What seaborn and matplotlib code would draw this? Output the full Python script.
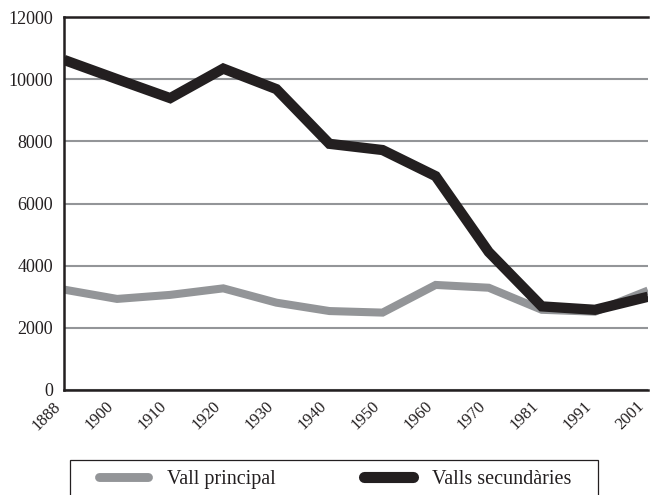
import matplotlib
matplotlib.use("Agg")
import matplotlib.pyplot as plt
import seaborn as sns
import pandas as pd
from matplotlib.lines import Line2D
from matplotlib.patches import Rectangle
from matplotlib.legend_handler import HandlerLine2D

years = ["1888", "1900", "1910", "1920", "1930", "1940", "1950", "1960", "1970", "1981", "1991", "2001"]
vall_principal = [3230, 2930, 3060, 3270, 2810, 2540, 2490, 3380, 3290, 2580, 2520, 3200]
valls_secundaries = [10620, 10000, 9390, 10340, 9680, 7920, 7720, 6880, 4440, 2690, 2580, 3000]
series = ["Vall principal", "Valls secundàries"]
colors = {"Vall principal": "#939598", "Valls secundàries": "#231f20"}
widths = {"Vall principal": 5.8, "Valls secundàries": 7.4}

sns.set_theme(style="white")
plt.rcParams["font.family"] = ["Liberation Serif", "DejaVu Serif"]

pos = list(range(len(years)))
df = pd.DataFrame({
    "pos": pos * 2,
    "value": vall_principal + valls_secundaries,
    "serie": [series[0]] * len(years) + [series[1]] * len(years),
})

fig = plt.figure(figsize=(6.5, 4.95), dpi=100)
ax = fig.add_axes([64 / 650, 1 - 390 / 495, (648 - 64) / 650, (390 - 17) / 495])

for s in series:
    sns.lineplot(data=df[df["serie"] == s], x="pos", y="value", color=colors[s],
                 linewidth=widths[s], ax=ax, legend=False,
                 solid_capstyle="butt", solid_joinstyle="miter")

ax.set_xlim(0, len(years) - 1)
ax.set_ylim(0, 12000)
ax.set_yticks(range(0, 12001, 2000))
ax.set_yticklabels([str(v) for v in range(0, 12001, 2000)], fontsize=13, color="#231f20")
ax.set_xticks(pos)
ax.set_xticklabels(years, fontsize=12, color="#231f20", rotation=45, ha="right",
                   va="top", rotation_mode="default")
ax.tick_params(axis="both", length=0)
ax.tick_params(axis="y", pad=8)
ax.tick_params(axis="x", pad=6)
ax.set_xlabel("")
ax.set_ylabel("")

ax.yaxis.grid(True, color="#939598", linewidth=1.5)
ax.xaxis.grid(False)
ax.set_axisbelow(True)
for side in ["left", "bottom", "top"]:
    ax.spines[side].set_visible(True)
    ax.spines[side].set_color("#231f20")
    ax.spines[side].set_linewidth(1.8)
ax.spines["right"].set_visible(False)

# legend frame (extends past the bottom edge, as in the reference)
fig.patches.append(Rectangle((70 / 650, 1 - 510 / 495), (598 - 70) / 650, 50 / 495,
                             transform=fig.transFigure, fill=False,
                             edgecolor="#231f20", linewidth=0.9))

fs = 14.5
handles = [Line2D([0], [0], color=colors[s], linewidth=widths[s] + 0.6, solid_capstyle="round") for s in series]
leg = fig.legend(handles, series, loc="upper left",
                 bbox_to_anchor=(70 / 650, 1 - 460 / 495),
                 ncol=2, frameon=False, fontsize=fs,
                 handlelength=3.38, handletextpad=0.95, columnspacing=3.43,
                 borderpad=0.5, borderaxespad=0,
                 handler_map={Line2D: HandlerLine2D(xpad=0.95)})
for t in leg.get_texts():
    t.set_color("#231f20")

fig.savefig("out.png", dpi=100)
